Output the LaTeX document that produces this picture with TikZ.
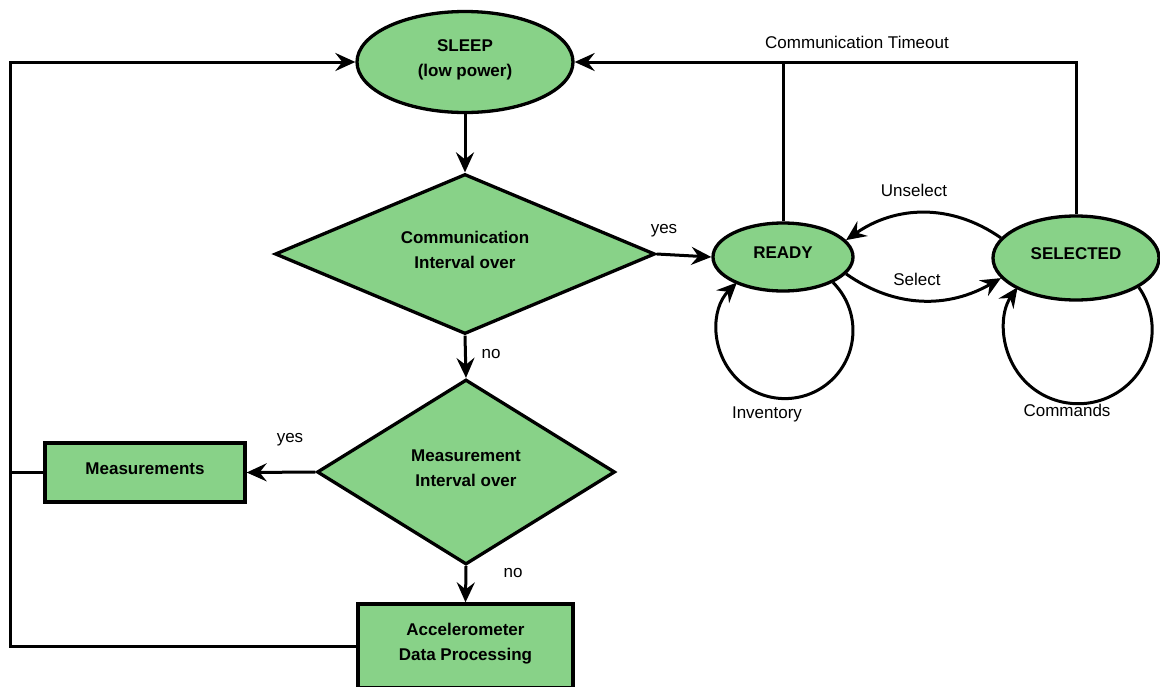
\documentclass[tikz,border=0pt]{standalone}
\usepackage{fontspec}
\setmainfont{Liberation Sans}
\usetikzlibrary{shapes.geometric,arrows.meta}
\definecolor{stategreen}{RGB}{136,210,136}
% lift the label within an unchanged box so it sits slightly above the shape centre
\newcommand{\liftedtext}[1]{\raisebox{3.5pt}[\height][\depth]{\begin{tabular}{@{}c@{}}#1\end{tabular}}}
\tikzset{
  every node/.style={font=\fontsize{17pt}{25pt}\selectfont},
  shapebase/.style={draw=black, line width=3.3pt, fill=stategreen, inner sep=0pt, align=center,
                    font=\fontsize{17pt}{25pt}\selectfont\bfseries},
  stateoval/.style={shapebase, ellipse},
  decision/.style={shapebase, diamond, aspect=2.4},
  procbox/.style={shapebase, rectangle},
  link/.style={line width=3pt},
  arr/.style={link, -{Stealth[length=20pt,width=18pt,inset=7pt]}},
  tag/.style={inner sep=0pt}
}
\begin{document}
\begin{tikzpicture}[x=1pt,y=1pt]
\useasboundingbox (0,0) rectangle (1160,-686);
\clip (0,0) rectangle (1160,-686);

% flowchart nodes
\node[stateoval, minimum width=216pt, minimum height=101pt] (sleep) at (465,-62) {\liftedtext{SLEEP\\(low power)}};
\node[decision, minimum width=380pt, minimum height=160pt] (d1) at (465,-254) {\liftedtext{Communication\\Interval over}};
\node[decision, minimum width=298pt, minimum height=185pt] (d2) at (466,-472) {\liftedtext{Measurement\\Interval over}};
\node[procbox, minimum width=200pt, minimum height=59pt] (meas) at (145,-472.5) {\liftedtext{Measurements}};
\node[procbox, minimum width=215pt, minimum height=84pt] (acc) at (465.5,-646) {\liftedtext{Accelerometer\\Data Processing}};

% protocol states
\node[stateoval, minimum width=140pt, minimum height=68pt] (ready) at (783,-257) {\liftedtext{READY}};
\node[stateoval, minimum width=166pt, minimum height=84pt] (sel) at (1076,-258) {\liftedtext{SELECTED}};

% flowchart connectors
\draw[arr] (sleep.south) -- (d1.north);
\draw[arr] (d1.east) -- (ready.west);
\draw[arr] (d1.south) -- (d2.north);
\draw[arr] (d2.west) -- (meas.east);
\draw[arr] (d2.south) -- (acc.north);

% return path to SLEEP
\coordinate (lb) at (10,-62);
\draw[arr] (acc.west) -- (acc.west -| lb) -- (lb) -- (sleep.west);
\draw[link] (meas.west) -- (meas.west -| lb);

% communication timeout
\draw[arr] (sel.north) |- (sleep.east);
\draw[link] (ready.north) -- (ready.north |- sleep.east);

% state transitions
\draw[arr] (sel.165) to[out=145,in=35] (ready.15);
\draw[arr] (ready.-15) to[out=-35,in=-150] (sel.195);
\draw[arr] (ready.-27) arc[start angle=45, end angle=-225, radius=68pt];
\draw[arr] (sel.-25) arc[start angle=35, end angle=-215, radius=74pt];

% labels
\node[tag] (lyes1) at (664,-231) {yes};
\node[tag] (lno1) at (491,-354) {no};
\node[tag] (lyes2) at (290,-440) {yes};
\node[tag] (lno2) at (513,-573) {no};
\node[tag] (ltime) at (857,-42) {Communication Timeout};
\node[tag] (lunsel) at (914,-190) {Unselect};
\node[tag] (lsel) at (917,-279) {Select};
\node[tag] (linv) at (767,-414) {Inventory};
\node[tag] (lcmd) at (1067,-410) {Commands};
\end{tikzpicture}
\end{document}
